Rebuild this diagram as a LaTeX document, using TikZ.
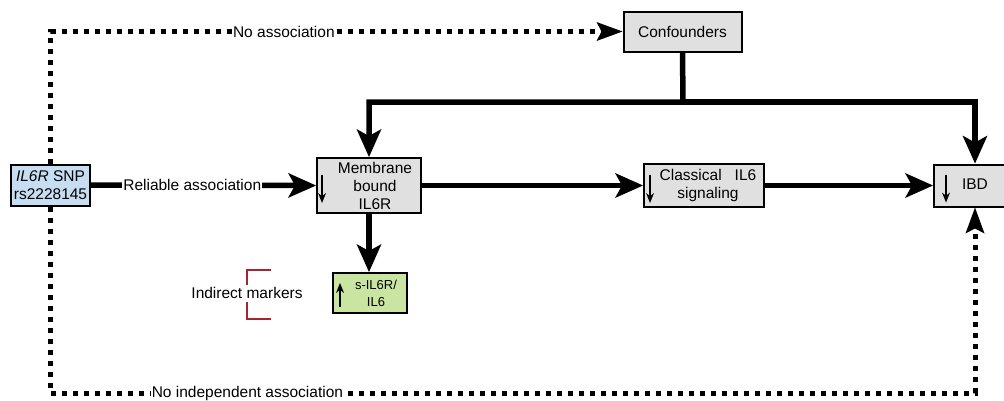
\documentclass[tikz,border=0pt]{standalone}
\usepackage{fontspec}
\setmainfont{Liberation Sans}
\usetikzlibrary{arrows.meta,calc}
\definecolor{boxgray}{HTML}{E0E0E0}
\definecolor{snpblue}{HTML}{C6DDF2}
\definecolor{sgreen}{HTML}{C9E5A1}
\definecolor{bracketred}{HTML}{A3262E}
\begin{document}
\begin{tikzpicture}[x=1pt,y=-1pt,
  box/.style={draw, line width=2pt, fill=boxgray, inner sep=0pt},
  txt/.style={font=\fontsize{15.5}{18}\selectfont, align=center, inner sep=0pt},
  smalltxt/.style={font=\fontsize{13}{17}\selectfont, align=center, inner sep=0pt},
  thickarrow/.style={line width=5.5pt, -{Stealth[length=28pt,width=25pt,inset=7pt,line width=0pt]}},
  dotline/.style={line width=5pt, dash pattern=on 5pt off 6pt, -{Stealth[length=26pt,width=19pt,inset=5pt,line width=0pt]}},
  lbl/.style={font=\fontsize{15.5}{18}\selectfont, fill=white, inner sep=1pt},
  inarrow/.style={line width=2pt, -{Stealth[length=10pt,width=8pt,line width=0pt]}}
]
\useasboundingbox (0,0) rectangle (1004,400);

% boxes
\node[box, fill=snpblue, minimum width=79pt, minimum height=41pt, txt] (snp) at (50.5,185) {\textit{IL6R} SNP\\rs2228145};
\node[box, minimum width=118pt, minimum height=40pt, txt] (conf) at (682.5,31.5) {Confounders};

\node[box, minimum width=104pt, minimum height=55pt] (mem) at (369,185.5) {};
\node[txt] (memtxt) at ($(mem.center)+(6,0)$) {Membrane\\bound\\IL6R};
\draw[inarrow] ($(mem.west)+(6,-10.5)$) -- ($(mem.west)+(6,17.5)$);

\node[box, minimum width=120pt, minimum height=43pt] (cls) at (704,185.5) {};
\node[txt] (clstxt) at ($(cls.center)+(4,0)$) {Classical\hspace{13pt}IL6\\signaling};
\draw[inarrow] ($(cls.west)+(7,-10.5)$) -- ($(cls.west)+(7,17.5)$);

\node[box, minimum width=82pt, minimum height=42pt] (ibd) at (975,185.5) {};
\node[txt] (ibdtxt) at ($(ibd.center)+(0,-1.5)$) {IBD};
\draw[inarrow] ($(ibd.west)+(13,-11)$) -- ($(ibd.west)+(13,17)$);

\node[box, fill=sgreen, minimum width=74pt, minimum height=40pt] (sil) at (370,293) {};
\node[smalltxt] (siltxt) at ($(sil.center)+(6,0)$) {s-IL6R/\\IL6};
\draw[inarrow] ($(sil.west)+(8,14)$) -- ($(sil.west)+(8,-10)$);

% indirect markers
\node[txt] (ind) at (247,293) {Indirect markers};
\draw[bracketred, line width=2.5pt] (271,270) -- (247,270) -- (247,285);
\draw[bracketred, line width=2.5pt] (247,302) -- (247,319) -- (271,319);

% solid connectors
\coordinate (cj) at (683,102);
\draw[thickarrow] (conf.south) -- (cj) -| (mem.north);
\draw[thickarrow] (cj) -| (ibd.north);
\draw[thickarrow] (snp.east) -- (mem.west) node[lbl, pos=0.45] {Reliable association};
\draw[thickarrow] (mem.east) -- (cls.west);
\draw[thickarrow] (cls.east) -- (ibd.west);
\draw[thickarrow] (mem.south) -- (mem.south |- sil.north);

% dotted connectors
\draw[dotline] (snp.north) |- (conf.west) node[lbl, pos=0.704] {No association};
\coordinate (bl) at (50.5,393);
\coordinate (br) at (975,393);
\draw[dotline] (snp.south) -- (bl) -- (br) node[lbl, pos=0.213] {No independent association} -- (ibd.south);
\end{tikzpicture}
\end{document}
